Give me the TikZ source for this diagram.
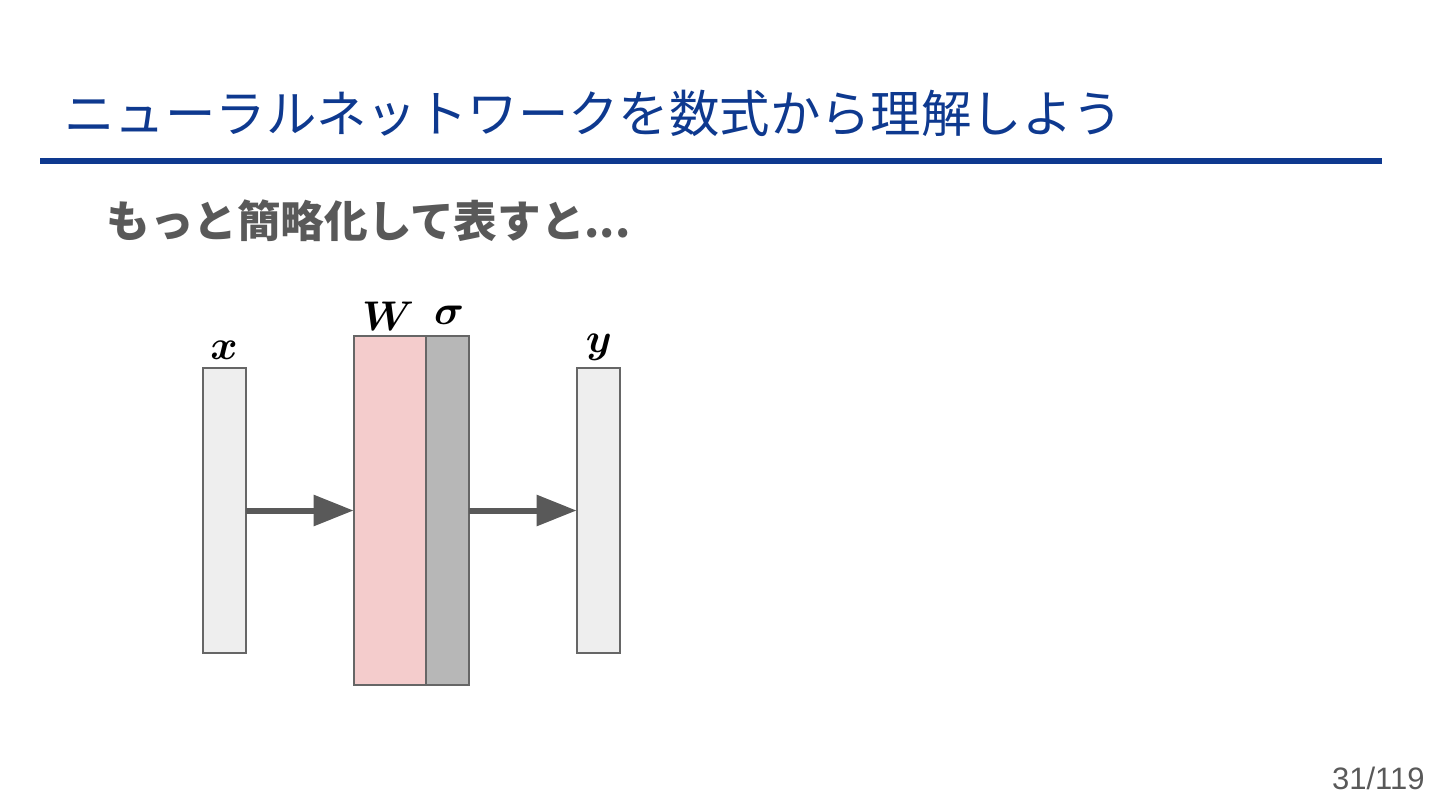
\documentclass[tikz,border=0pt]{standalone}
\usepackage{fontspec}
\usepackage{bm}
\newfontfamily\jpfont{Noto Sans CJK JP}
\newfontfamily\pgfont{Liberation Sans}
\usetikzlibrary{arrows.meta}
\definecolor{titleblue}{RGB}{14,57,143}
\definecolor{textgray}{RGB}{89,89,89}
\definecolor{boxgray}{RGB}{238,238,238}
\definecolor{wpink}{RGB}{244,204,204}
\definecolor{sgray}{RGB}{183,183,183}
\definecolor{edgegray}{RGB}{102,102,102}
\tikzset{
  vec/.style={draw=edgegray, line width=0.8pt, fill=boxgray},
  lbl/.style={font=\boldmath\fontsize{20}{24}\selectfont, inner sep=0pt},
  conn/.style={draw=textgray, line width=3pt, -{Triangle[length=20pt,width=15pt]}, shorten >=0pt},
}
\begin{document}
\begin{tikzpicture}[x=0.5pt,y=-0.5pt]
\useasboundingbox (0,0) rectangle (1440,810);
% title
\node[anchor=west, inner sep=0pt, text=titleblue, font=\jpfont\fontsize{25.2}{29}\selectfont] (title) at (64,113) {ニューラルネットワークを数式から理解しよう};
\draw[titleblue, line width=2.6pt] (40,161) coordinate (r1) -- (1382,161) coordinate (r2);
% subtitle
\node[anchor=west, inner sep=0pt, text=textgray, font=\jpfont\bfseries\fontsize{21.8}{26}\selectfont] (sub) at (106,221) {もっと簡略化して表すと...};
% boxes
\path[vec] (203,368) rectangle (246,653);
\node[inner sep=0pt, minimum width=21.5pt, minimum height=142.5pt] (xv) at (224.5,510.5) {};
\path[draw=edgegray, line width=0.8pt, fill=wpink] (354,336) rectangle (426,685);
\node[inner sep=0pt, minimum width=36pt, minimum height=174.5pt] (wv) at (390,510.5) {};
\path[draw=edgegray, line width=0.8pt, fill=sgray] (426,336) rectangle (469,685);
\node[inner sep=0pt, minimum width=21.5pt, minimum height=174.5pt] (sv) at (447.5,510.5) {};
\path[vec] (577,368) rectangle (620,653);
\node[inner sep=0pt, minimum width=21.5pt, minimum height=142.5pt] (yv) at (598.5,510.5) {};
% labels
\node[lbl] (xl) at (224,350) {$x$};
\node[lbl] (wl) at (388,316) {$W$};
\node[lbl] (sl) at (449,315) {$\sigma$};
\node[lbl] (yl) at (599,347) {$y$};
% arrows
\draw[conn] (xv.east) -- (wv.west);
\draw[conn] (sv.east) -- (yv.west);
% page number
\node[anchor=east, inner sep=0pt, text=textgray, font=\pgfont\fontsize{15.5}{18}\selectfont] (pg) at (1425,778) {31/119};
\end{tikzpicture}
\end{document}
